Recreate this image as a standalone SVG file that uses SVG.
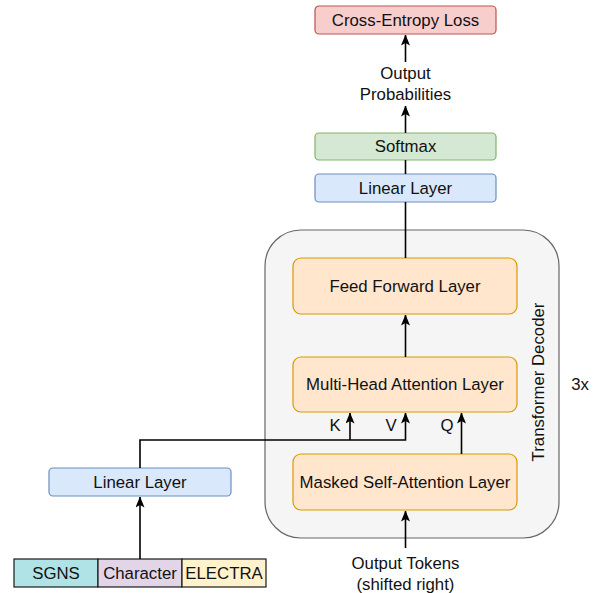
<svg xmlns="http://www.w3.org/2000/svg" width="597" height="593" viewBox="0 0 597 593">
<style>
text{font-family:"Liberation Sans",Arial,sans-serif;font-size:16.8px;fill:#111;text-anchor:middle;dominant-baseline:central}
.blue{fill:#dae8fc;stroke:#6c8ebf;stroke-width:1.2}
.green{fill:#d5e8d4;stroke:#82b366;stroke-width:1.2}
.red{fill:#f8cecc;stroke:#b85450;stroke-width:1.2}
.orange{fill:#ffe6cc;stroke:#d79b00;stroke-width:1.2}
.cont{fill:#f5f5f5;stroke:#666666;stroke-width:1.2}
.emb{stroke:#1a1a1a;stroke-width:1.2}
.edge{fill:none;stroke:#000;stroke-width:1.6}
</style>
<defs>
<marker id="arr" viewBox="0 0 11 9" refX="10.5" refY="4.5" markerWidth="11" markerHeight="9" markerUnits="userSpaceOnUse" orient="auto">
<path d="M0,0 L11,4.5 L0,9 L2.6,4.5 z" fill="#000"/>
</marker>
</defs>
<g id="decoder">
<rect class="cont" x="265" y="230" width="294" height="308" rx="36"/>
<text transform="translate(538,382) rotate(-90)">Transformer Decoder</text>
</g>
<g id="loss"><rect class="red" x="315" y="6" width="181" height="28" rx="4"/><text x="405.5" y="20">Cross-Entropy Loss</text></g>
<g id="probs"><text x="405.5" y="73">Output</text><text x="405.5" y="94">Probabilities</text></g>
<g id="softmax"><rect class="green" x="315" y="133" width="181" height="27" rx="4"/><text x="405.5" y="146.5">Softmax</text></g>
<g id="linear-top"><rect class="blue" x="315" y="174" width="181" height="28" rx="4"/><text x="405.5" y="188">Linear Layer</text></g>
<g id="ff"><rect class="orange" x="293" y="258" width="224" height="56" rx="8"/><text x="405" y="286">Feed Forward Layer</text></g>
<g id="mha"><rect class="orange" x="293" y="357" width="224" height="55" rx="8"/><text x="405" y="384.5">Multi-Head Attention Layer</text></g>
<g id="masked"><rect class="orange" x="293" y="454" width="224" height="56" rx="8"/><text x="405" y="482">Masked Self-Attention Layer</text></g>
<g id="linear-left"><rect class="blue" x="49" y="468" width="182" height="28" rx="4"/><text x="140" y="482">Linear Layer</text></g>
<g id="embeddings">
<rect class="emb" x="14" y="559" width="84" height="28" fill="#b0e3e6"/><text x="56" y="573">SGNS</text>
<rect class="emb" x="98" y="559" width="84" height="28" fill="#e1d5e7"/><text x="140" y="573">Character</text>
<rect class="emb" x="182" y="559" width="84" height="28" fill="#fff2cc"/><text x="224" y="573">ELECTRA</text>
</g>
<g id="tokens"><text x="405.5" y="563">Output Tokens</text><text x="405.5" y="584">(shifted right)</text></g>
<g id="repeat"><text x="580" y="384">3x</text></g>
<g id="connectors">
<path class="edge" d="M405.5,62 V35" marker-end="url(#arr)"/>
<path class="edge" d="M405.5,133 V106" marker-end="url(#arr)"/>
<path class="edge" d="M405.5,160 V174"/>
<path class="edge" d="M405.5,202 V258"/>
<path class="edge" d="M405.5,357 V315" marker-end="url(#arr)"/>
<path class="edge" d="M405.5,548 V511" marker-end="url(#arr)"/>
<path class="edge" d="M461.5,454 V413" marker-end="url(#arr)"/>
<path class="edge" d="M140,468 V440 H405.5 V413" marker-end="url(#arr)"/>
<path class="edge" d="M350,440 V413" marker-end="url(#arr)"/>
<path class="edge" d="M140,559 V497" marker-end="url(#arr)"/>
<text x="335" y="425">K</text>
<text x="391" y="425">V</text>
<text x="447" y="425">Q</text>
</g>
</svg>
